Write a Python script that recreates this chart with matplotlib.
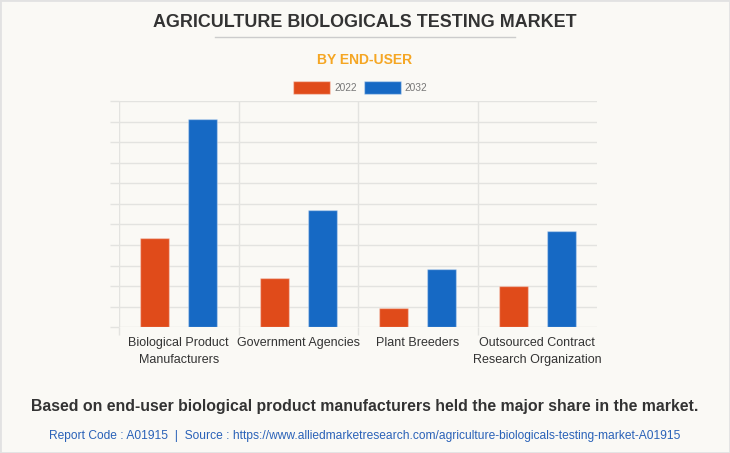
import matplotlib.pyplot as plt
import numpy as np
from matplotlib.patches import Rectangle
from matplotlib.lines import Line2D

categories = ["Biological Product\nManufacturers", "Government Agencies",
              "Plant Breeders", "Outsourced Contract\nResearch Organization"]
years = ["2022", "2032"]
values_2022 = [87.1, 47.6, 18.5, 40.2]
values_2032 = [202.5, 113.8, 56.7, 93.3]

c2022 = "#e04b1a"
c2032 = "#1669c4"
grid_c = "#e3e3e0"
bg = "#faf9f5"

W, H = 730, 453
plt.rcParams['font.family'] = ['Liberation Sans', 'DejaVu Sans']

fig = plt.figure(figsize=(W / 100, H / 100), dpi=100, facecolor=bg)


def fx(px):
    return px / W


def fy(py):
    return 1 - py / H


ax = fig.add_axes([fx(119), fy(327.3), fx(597) - fx(119), fy(101) - fy(327.3)])
ax.set_facecolor(bg)

x = np.arange(len(categories))
ax.bar(x - 0.2, values_2022, width=0.243, color=c2022, edgecolor=(1, 1, 1, 0.35), linewidth=1, zorder=3)
ax.bar(x + 0.2, values_2032, width=0.243, color=c2032, edgecolor=(1, 1, 1, 0.35), linewidth=1, zorder=3)

ax.set_xlim(-0.5, 3.5)
ax.set_ylim(0, 220)
ax.set_yticks(np.arange(0, 221, 20))
ax.yaxis.grid(True, color=grid_c, linewidth=1)
ax.tick_params(axis='y', length=6.5, width=1, color=grid_c, labelleft=False)

ax.set_xticks(x)
ax.set_xticklabels(categories, fontsize=9, color="#333333", linespacing=1.6)
ax.tick_params(axis='x', which='major', length=0, pad=7)
ax.set_xticks([-0.5, 0.5, 1.5, 2.5], minor=True)
ax.xaxis.grid(True, which='minor', color=grid_c, linewidth=1)
ax.tick_params(axis='x', which='minor', length=6, width=1, color=grid_c)
for s in ax.spines.values():
    s.set_visible(False)
ax.set_axisbelow(True)

# titles
fig.text(0.5, fy(27), "AGRICULTURE BIOLOGICALS TESTING MARKET", ha='center', va='baseline',
         fontsize=12.9, fontweight='bold', color="#333333")
fig.add_artist(Line2D([fx(215), fx(515)], [fy(37), fy(37)], color="#cccccc", linewidth=1))
fig.text(0.5, fy(64), "BY END-USER", ha='center', va='baseline',
         fontsize=10, fontweight='bold', color="#f5a623")

# legend
for lx, tx, col, lab in [(293, 334, c2022, years[0]), (363.5, 404, c2032, years[1])]:
    fig.add_artist(Rectangle((fx(lx), fy(93.7)), fx(37), 13 / H, facecolor=col,
                             edgecolor=(1, 1, 1, 0.4), linewidth=1))
    fig.text(fx(tx), fy(91), lab, ha='left', va='baseline', fontsize=7.3,
             color="#777777")

fig.text(0.5, fy(410.7), "Based on end-user biological product manufacturers held the major share in the market.",
         ha='center', va='baseline', fontsize=11.45, fontweight='bold', color="#333333")
fig.text(0.5, fy(439), "Report Code : A01915  |  Source : https://www.alliedmarketresearch.com/agriculture-biologicals-testing-market-A01915",
         ha='center', va='baseline', fontsize=8.65, color="#2a62b8")

fig.add_artist(Rectangle((0, 0), 1, 1, facecolor='none', edgecolor="#e2e2e2", linewidth=2))

fig.savefig("out.png", dpi=100, facecolor=bg)
